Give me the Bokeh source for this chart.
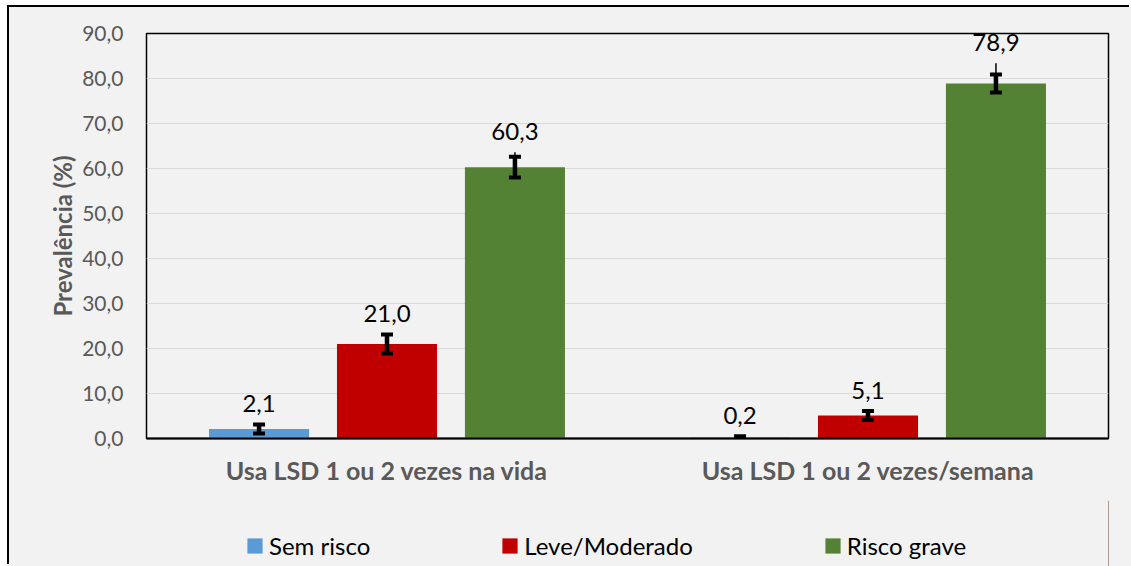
from bokeh.plotting import figure
from bokeh.layouts import column
from bokeh.models import ColumnDataSource, FactorRange, Range1d, FixedTicker, Legend, LegendItem
from bokeh.transform import dodge
from bokeh.core.properties import value
from bokeh.embed import file_html
from bokeh.resources import INLINE

categories = ["Usa LSD 1 ou 2 vezes na vida", "Usa LSD 1 ou 2 vezes/semana"]
series = ["Sem risco", "Leve/Moderado", "Risco grave"]
sem_risco = [2.1, 0.2]
leve_moderado = [21.0, 5.1]
risco_grave = [60.3, 78.9]
# error bars (half width) and extra thin upper whisker
err_sem_risco = [1.0, 0.3]
err_leve_moderado = [2.1, 1.0]
err_risco_grave = [2.3, 2.0]
ext_sem_risco = [0.0, 0.0]
ext_leve_moderado = [0.0, 0.0]
ext_risco_grave = [1.0, 2.5]
y_ticks = [0, 10, 20, 30, 40, 50, 60, 70, 80, 90]

colors = ["#5B9BD5", "#C00000", "#548235"]
offsets = [-0.266, 0.0, 0.266]
FONT = "Lato"
BG = "#F2F2F2"

p = figure(width=1122, height=493,
           x_range=FactorRange(factors=categories, range_padding=0),
           y_range=Range1d(0, 90),
           output_backend="svg", toolbar_location=None,
           min_border_left=137, min_border_right=23, min_border_top=26, min_border_bottom=62,
           background_fill_color=BG, border_fill_color=BG)

vals_all = [sem_risco, leve_moderado, risco_grave]
errs_all = [err_sem_risco, err_leve_moderado, err_risco_grave]
exts_all = [ext_sem_risco, ext_leve_moderado, ext_risco_grave]

for name, vals, errs, exts, col, off in zip(series, vals_all, errs_all, exts_all, colors, offsets):
    lo = [v - e for v, e in zip(vals, errs)]
    hi = [v + e for v, e in zip(vals, errs)]
    thin = [h + x for h, x in zip(hi, exts)]
    src = ColumnDataSource(dict(
        x=categories, top=vals, lo=lo, hi=hi, thin=thin,
        label=[f"{v:.1f}".replace(".", ",") for v in vals],
    ))
    xd = dodge("x", off, range=p.x_range)
    p.vbar(x=xd, top="top", width=0.208, source=src, fill_color=col, line_color=None)
    p.segment(x0=xd, y0="hi", x1=xd, y1="thin", source=src, line_color="black", line_width=1.5)
    p.segment(x0=xd, y0="lo", x1=xd, y1="hi", source=src, line_color="black", line_width=4.5)
    p.rect(x=xd, y="hi", width=12, height=4, width_units="screen", height_units="screen",
           source=src, fill_color="black", line_color=None)
    p.rect(x=xd, y="lo", width=12, height=4, width_units="screen", height_units="screen",
           source=src, fill_color="black", line_color=None)
    p.text(x=xd, y="thin", text="label", source=src, text_align="center",
           text_baseline="alphabetic", y_offset=-21, text_font=value(FONT),
           text_font_size="24px", text_color="black")

# axes
p.xaxis.major_label_text_font = FONT
p.xaxis.major_label_text_font_style = "bold"
p.xaxis.major_label_text_font_size = "25px"
p.xaxis.major_label_text_color = "#595959"
p.xaxis.axis_line_color = "black"
p.xaxis.axis_line_width = 2
p.xaxis.major_tick_line_color = None
p.xaxis.minor_tick_line_color = None
p.xaxis.major_label_standoff = 10

p.yaxis.ticker = FixedTicker(ticks=y_ticks)
p.yaxis.major_label_overrides = {t: f"{t:.1f}".replace(".", ",") for t in y_ticks}
p.yaxis.major_label_text_font = FONT
p.yaxis.major_label_text_font_size = "21px"
p.yaxis.major_label_text_color = "#595959"
p.yaxis.axis_line_color = None
p.yaxis.major_tick_line_color = None
p.yaxis.minor_tick_line_color = None
p.yaxis.major_label_standoff = 17
p.yaxis.axis_label = "Prevalência (%)"
p.yaxis.axis_label_text_font = FONT
p.yaxis.axis_label_text_font_style = "bold"
p.yaxis.axis_label_text_font_size = "24px"
p.yaxis.axis_label_text_color = "#595959"
p.yaxis.axis_label_standoff = 2

p.xgrid.grid_line_color = None
p.ygrid.ticker = FixedTicker(ticks=y_ticks)
p.ygrid.grid_line_color = "#D9D9D9"
p.ygrid.grid_line_width = 1

p.outline_line_color = "black"
p.outline_line_width = 1.5

# legend strip below the chart (same side borders so the frames line up)
pl = figure(width=1122, height=66, x_range=Range1d(0, 1), y_range=Range1d(0, 1),
            x_axis_type=None, y_axis_type=None,
            output_backend="svg", toolbar_location=None,
            min_border_left=137, min_border_right=23, min_border_top=0, min_border_bottom=0,
            background_fill_color=BG, border_fill_color=BG)
pl.grid.visible = False
pl.outline_line_color = None
items = []
for name, col in zip(series, colors):
    # legend swatch renderer: one bar placed outside the visible range
    r = pl.vbar(x=[5], top=[1], width=0.1, fill_color=col, line_color=None)
    items.append(LegendItem(label=name, renderers=[r]))
legend = Legend(items=items, orientation="horizontal", location=(99, 6),
                spacing=130, glyph_width=19, glyph_height=19, label_standoff=5,
                padding=0, margin=0, border_line_color=None, background_fill_alpha=0,
                label_text_font=FONT, label_text_font_size="24px", label_text_color="black")
pl.add_layout(legend)

layout = column(p, pl, spacing=0,
                styles={"margin-left": "9px", "margin-top": "7px",
                        "background-color": BG, "box-shadow": "-2px -2px 0 0 black"})

open("out.html", "w").write(file_html(layout, INLINE))
